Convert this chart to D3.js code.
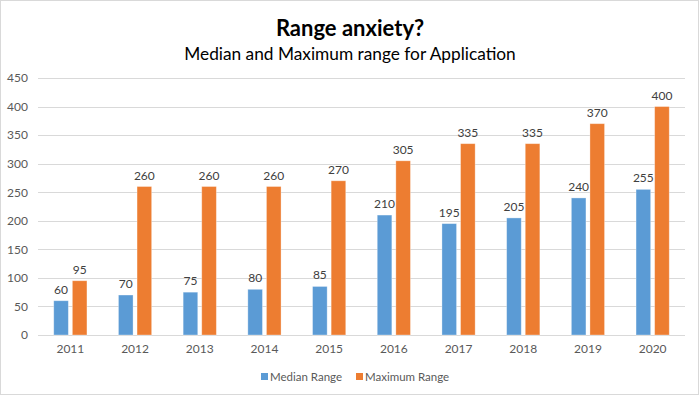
<!DOCTYPE html>
<html>
<head>
<meta charset="utf-8">
<script src="https://cdn.jsdelivr.net/npm/d3@7"></script>
<style>
  body { margin: 0; background: #fff; }
</style>
</head>
<body>
<div id="chart"></div>
<script>
// data
var years = ['2011', '2012', '2013', '2014', '2015', '2016', '2017', '2018', '2019', '2020'];
var medianRange = [60, 70, 75, 80, 85, 210, 195, 205, 240, 255];
var maximumRange = [95, 260, 260, 260, 270, 305, 335, 335, 370, 400];
var yTicks = [0, 50, 100, 150, 200, 250, 300, 350, 400, 450];
var seriesNames = ['Median Range', 'Maximum Range'];

var W = 700, H = 396;
var margin = {top: 78, right: 15, bottom: 61, left: 38};
var width = W - margin.left - margin.right,
    height = H - margin.top - margin.bottom;

var colors = ['#5b9bd5', '#ed7d31'];
var fontFamily = 'Lato, "Open Sans", sans-serif';

var svgRoot = d3.select('#chart')
    .append('svg')
        .attr('width', W)
        .attr('height', H);

// outer border
svgRoot.append('rect')
    .attr('x', 0.5).attr('y', 0.5)
    .attr('width', W - 2).attr('height', H - 2)
    .attr('fill', '#fff')
    .attr('stroke', '#d9d9d9');

// titles
svgRoot.append('text')
    .attr('x', 350).attr('y', 36)
    .style('text-anchor', 'middle')
    .attr('font-family', fontFamily)
    .attr('font-size', 22)
    .attr('font-weight', 'bold')
    .attr('fill', '#000')
    .text('Range anxiety?');

svgRoot.append('text')
    .attr('x', 350).attr('y', 59.5)
    .style('text-anchor', 'middle')
    .attr('font-family', fontFamily)
    .attr('font-size', 17.3)
    .attr('fill', '#000')
    .text('Median and Maximum range for Application');

var svg = svgRoot.append('g')
    .attr('transform', 'translate(' + margin.left + ',' + margin.top + ')');

var x = d3.scaleBand()
    .domain(years)
    .range([0, width]);

var y = d3.scaleLinear()
    .domain([0, 450])
    .range([height, 0]);

var barW = 14.6, innerGap = 4;

// gridlines
svg.append('g')
    .selectAll('line')
    .data(yTicks)
    .enter().append('line')
        .attr('x1', 0).attr('x2', width)
        .attr('y1', function(d) { return Math.round(y(d)) + 0.5; })
        .attr('y2', function(d) { return Math.round(y(d)) + 0.5; })
        .attr('stroke', '#d9d9d9')
        .attr('stroke-width', 1);

// y axis labels
var yAxis = svg.append('g')
    .call(d3.axisLeft(y).tickValues(yTicks).tickSize(0).tickPadding(10));
yAxis.select('.domain').remove();
yAxis.selectAll('text')
    .attr('font-family', fontFamily)
    .attr('font-size', 12)
    .attr('fill', '#595959');

// x axis labels
var xAxis = svg.append('g')
    .attr('transform', 'translate(0,' + height + ')')
    .call(d3.axisBottom(x).tickSize(0).tickPadding(9));
xAxis.select('.domain').remove();
xAxis.selectAll('text')
    .attr('font-family', fontFamily)
    .attr('font-size', 12)
    .attr('fill', '#595959');

var series = [medianRange, maximumRange];

series.forEach(function(vals, s) {
    var offset = s === 0 ? -(innerGap / 2 + barW) : innerGap / 2;
    var g = svg.append('g');
    g.selectAll('rect')
        .data(vals)
        .enter().append('rect')
            .attr('x', function(d, i) { return x(years[i]) + x.bandwidth() / 2 + offset; })
            .attr('y', function(d) { return y(d); })
            .attr('width', barW)
            .attr('height', function(d) { return height - y(d); })
            .attr('fill', colors[s])
            .attr('stroke', '#fff')
            .attr('stroke-opacity', 0.4)
            .attr('stroke-width', 0.8);
    g.selectAll('text')
        .data(vals)
        .enter().append('text')
            .attr('x', function(d, i) { return x(years[i]) + x.bandwidth() / 2 + offset + barW / 2; })
            .attr('y', function(d) { return y(d) - 7; })
            .style('text-anchor', 'middle')
            .attr('font-family', fontFamily)
            .attr('font-size', 12)
            .attr('fill', '#404040')
            .text(function(d) { return d; });
});

// legend
var legendX = [261, 356];
var legend = svgRoot.selectAll('.legendItem')
    .data(seriesNames)
    .enter().append('g')
    .attr('class', 'legendItem')
    .attr('transform', function(d, i) { return 'translate(' + legendX[i] + ',381)'; });

legend.append('rect')
    .attr('x', 0).attr('y', -8)
    .attr('width', 7).attr('height', 7)
    .attr('fill', function(d, i) { return colors[i]; });

legend.append('text')
    .attr('x', 9).attr('y', 0)
    .attr('font-family', fontFamily)
    .attr('font-size', 11.5)
    .attr('fill', '#595959')
    .text(function(d) { return d; });
</script>
</body>
</html>
